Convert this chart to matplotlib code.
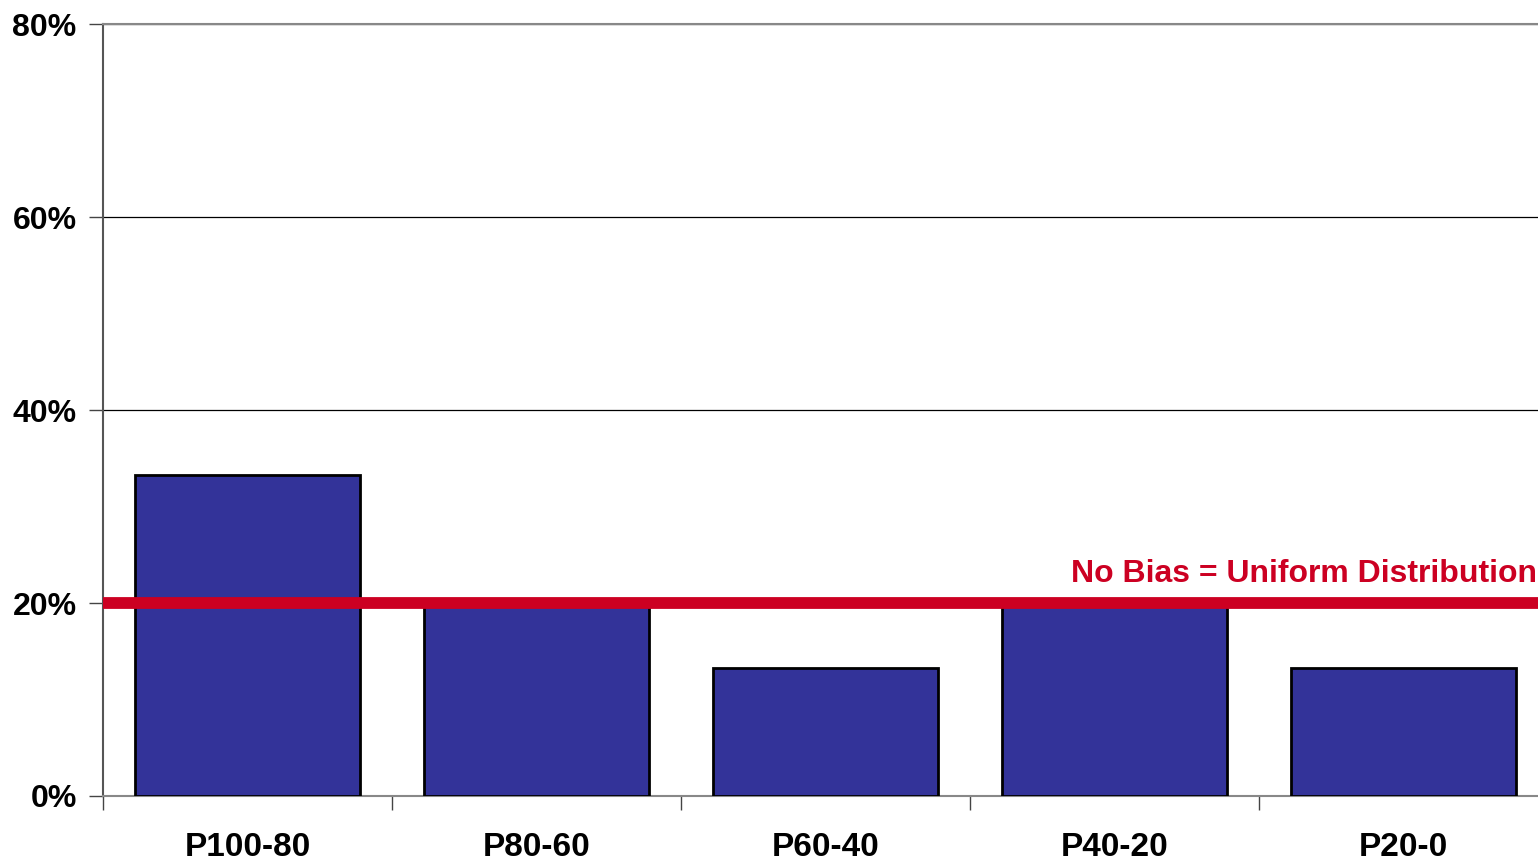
import matplotlib.pyplot as plt
import numpy as np
from matplotlib.ticker import FixedLocator, PercentFormatter
from matplotlib.transforms import blended_transform_factory

plt.rcParams["font.family"] = ["Liberation Sans", "DejaVu Sans"]
plt.rcParams["font.weight"] = "bold"

categories = ["P100-80", "P80-60", "P60-40", "P40-20", "P20-0"]
shares = [33.3, 20.0, 13.3, 20.0, 13.3]
uniform_share = 20.0
y_ticks = [0, 20, 40, 60, 80]

fig = plt.figure(figsize=(15.38, 8.61), dpi=100)
ax = fig.add_axes([0.067, 0.0755, 0.9395, 0.8966])

x = np.arange(len(categories))
ax.bar(x, shares, width=0.78, color="#333399", edgecolor="black",
       linewidth=2, zorder=3)

# uniform reference line drawn over the bars
ax.axhline(uniform_share, color="#CC0022", linewidth=8.5, zorder=4)
label_tr = blended_transform_factory(fig.transFigure, ax.transData)
ax.text(0.9995, uniform_share + 3.0, "No Bias = Uniform Distribution",
        transform=label_tr, ha="right", va="center",
        color="#CC0022", fontsize=23, fontweight="bold", zorder=5,
        clip_on=False)

ax.set_xlim(-0.5, len(categories) - 0.5)
ax.set_ylim(0, 80)
ax.set_yticks(y_ticks)
ax.yaxis.set_major_formatter(PercentFormatter(decimals=0))
ax.yaxis.grid(True, color="black", linewidth=0.9, zorder=0)

# boundary ticks between categories, labels at centres
ax.xaxis.set_major_locator(FixedLocator(np.arange(len(categories) + 1) - 0.5))
ax.xaxis.set_minor_locator(FixedLocator(x))
ax.set_xticklabels([], minor=False)
ax.set_xticklabels(categories, minor=True)
ax.tick_params(axis="x", which="major", direction="out", length=10,
               width=1, color="#444444")
ax.tick_params(axis="x", which="minor", length=0, pad=26, labelsize=24)
ax.tick_params(axis="y", direction="out", length=10, width=1,
               color="#444444", pad=9, labelsize=23)

for lab in ax.get_xticklabels(minor=True) + ax.get_yticklabels():
    lab.set_fontweight("bold")

ax.spines["left"].set_color("#555555")
ax.spines["left"].set_linewidth(1.5)
ax.spines["bottom"].set_color("#888888")
ax.spines["bottom"].set_linewidth(1.5)
ax.spines["top"].set_color("#888888")
ax.spines["top"].set_linewidth(1.5)
ax.spines["right"].set_visible(False)

fig.savefig("out.png", dpi=100)
